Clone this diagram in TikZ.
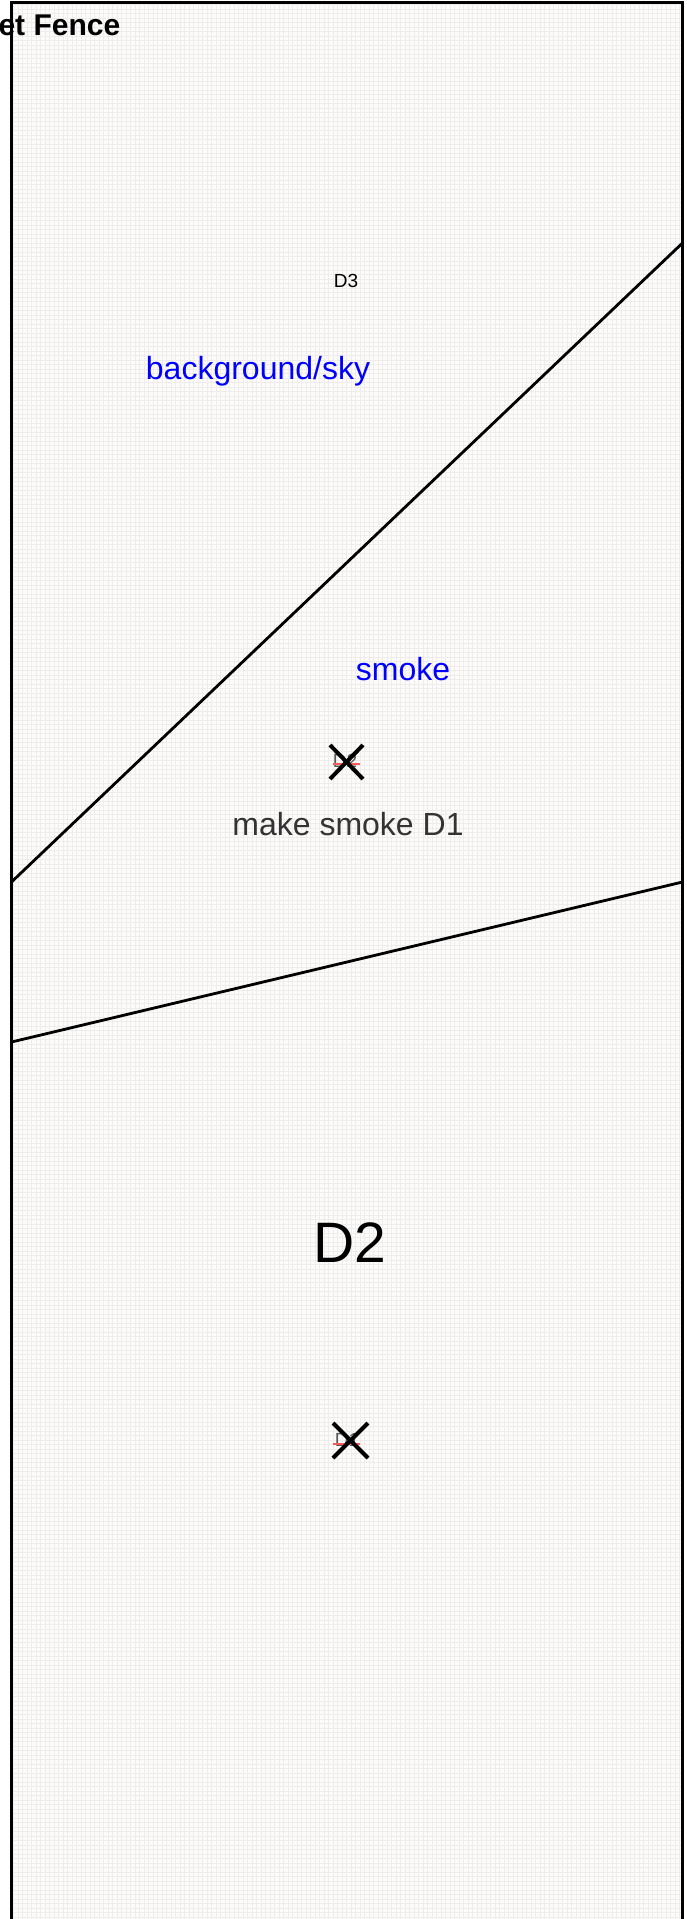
\documentclass[tikz,border=0pt]{standalone}
\usepackage{fontspec}
\setmainfont{Liberation Sans}
\definecolor{paper}{RGB}{252,251,250}
\definecolor{gridline}{RGB}{239,237,235}
\definecolor{labelgray}{RGB}{51,51,51}
\tikzset{
  frameline/.style={draw=black, line width=2.8pt},
  zonelabel/.style={text=blue, anchor=base, font=\fontsize{32}{38}\selectfont},
  crossmark/.style={draw=black, line width=4pt},
  pinmark/.style={draw=red!65, line width=1.6pt},
  pinlabel/.style={text=black!65, inner sep=0pt, font=\fontsize{19}{22}\selectfont},
}
\begin{document}
\begin{tikzpicture}[x=1pt,y=-1pt]
\useasboundingbox (0,0) rectangle (687,1919);

\coordinate (tl) at (11.5,2.5);
\coordinate (tr) at (682.5,2.5);
\coordinate (bl) at (11.5,1925);
\coordinate (br) at (682.5,1925);
\coordinate (skyL) at (11.5,882);
\coordinate (skyR) at (682.5,243);
\coordinate (smokeL) at (11.5,1042);
\coordinate (smokeR) at (682.5,882);

% paper with fine grid
\fill[paper] (tl) rectangle (br);
\draw[gridline, line width=0.4pt, step=4.5pt] (11.5,2.5) grid (682.5,1919);

% zone edges
\draw[frameline] (skyL) -- (skyR);
\draw[frameline] (smokeL) -- (smokeR);
\draw[frameline] (bl) -- (tl) -- (tr) -- (br);

% labels
\node[anchor=base west, font=\bfseries\fontsize{30}{35}\selectfont] (title) at (-5,36) {et Fence};
\node[anchor=base, font=\fontsize{19}{22}\selectfont] (d3) at (346,287) {D3};
\node[zonelabel] (sky) at (258,379) {background/sky};
\node[zonelabel] (smoke) at (403,680) {smoke};
\node[anchor=base, text=labelgray, font=\fontsize{32}{37}\selectfont] (makesmoke) at (348,835) {make smoke D1};
\node[anchor=base, font=\fontsize{57}{66}\selectfont] (d2) at (350,1262) {D2};

% points
\node[pinlabel] (pin1) at (345,761) {D2};
\draw[pinmark] (pin1.center) ++(-12,3) -- ++(27,0);
\draw[crossmark] (pin1.center) ++(-15,-16) -- ++(33,34);
\draw[crossmark] (pin1.center) ++(18,-16) -- ++(-33,34);

\node[pinlabel] (pin2) at (347,1440) {D1};
\draw[pinmark] (pin2.center) ++(-14,4) -- ++(27,0);
\draw[crossmark] (pin2.center) ++(-14,-17) -- ++(35,35);
\draw[crossmark] (pin2.center) ++(21,-17) -- ++(-35,35);
\end{tikzpicture}
\end{document}
